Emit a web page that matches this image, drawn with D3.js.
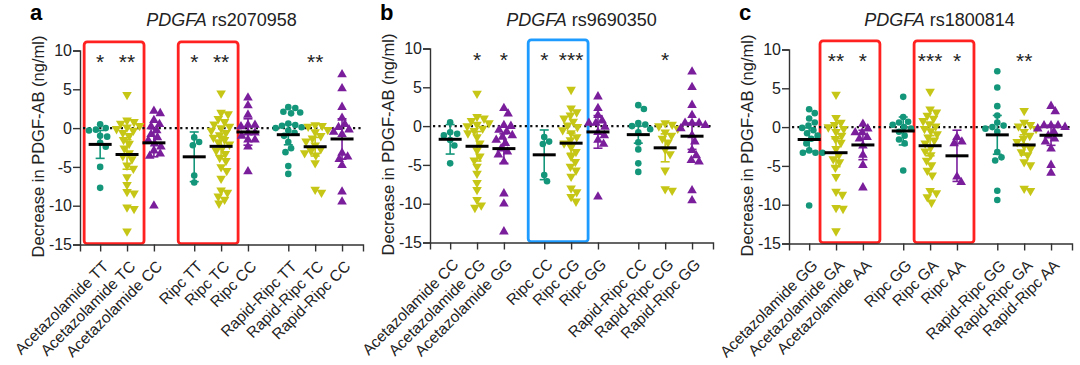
<!DOCTYPE html>
<html>
<head>
<meta charset="utf-8">
<script src="https://cdn.jsdelivr.net/npm/d3@7"></script>
<style>
  body { margin: 0; background: #fff; }
  svg text { font-family: "Liberation Sans", Arial, sans-serif; fill: #222; }
</style>
</head>
<body>
<svg id="chart" width="1080" height="365"></svg>
<script>
// ---- data ----
var catsA = ["Acetazolamide TT", "Acetazolamide TC", "Acetazolamide CC", "Ripc TT", "Ripc TC", "Ripc CC", "Rapid-Ripc TT", "Rapid-Ripc TC", "Rapid-Ripc CC"];
var catsB = ["Acetazolamide CC", "Acetazolamide CG", "Acetazolamide GG", "Ripc CC", "Ripc CG", "Ripc GG", "Rapid-Ripc CC", "Rapid-Ripc CG", "Rapid-Ripc GG"];
var catsC = ["Acetazolamide GG", "Acetazolamide GA", "Acetazolamide AA", "Ripc GG", "Ripc GA", "Ripc AA", "Rapid-Ripc GG", "Rapid-Ripc GA", "Rapid-Ripc AA"];

var valsA = [
  [0.5, -0.2, -0.3, 0.0, -1.0, -1.1, -1.9, -2.4, -5.0, -7.7],
  [4.3, 1.0, 0.8, 0.6, 0.3, 0.1, -0.1, -0.3, -0.6, -1.0, -1.5, -2.0, -2.6, -3.2, -3.6, -4.0, -4.8, -5.2, -6.3, -7.3, -8.2, -8.4, -10.2, -10.4, -13.3],
  [2.2, 1.9, 1.0, 0.5, 0.2, -0.3, -0.8, -1.2, -1.6, -2.0, -2.4, -2.9, -3.3, -3.6, -10.0],
  [-1.2, -1.8, -2.2, -6.1, -7.0],
  [4.5, 2.0, 1.8, 1.2, 0.8, 0.5, 0.2, 0.0, -0.3, -0.6, -0.9, -1.2, -1.5, -1.8, -2.1, -2.5, -2.9, -3.3, -3.8, -4.2, -5.0, -5.5, -6.5, -8.0, -8.3, -8.8, -9.2, -9.7],
  [3.9, 2.9, 1.7, 0.4, 0.4, 0.2, -0.6, -0.6, -1.0, -1.5, -1.5, -2.4, -5.6],
  [2.7, 2.6, 2.1, 2.0, 1.9, 0.6, 0.4, 0.3, 0.1, 0.0, -0.3, -0.6, -1.0, -1.8, -2.6, -3.1, -4.9, -5.9],
  [0.4, 0.3, 0.2, -0.2, -0.5, -1.0, -1.3, -1.7, -2.2, -2.7, -2.9, -3.2, -3.5, -4.5, -7.9, -8.3],
  [6.9, 5.1, 2.7, 1.3, 0.5, 0.1, -0.2, -0.5, -0.8, -3.2, -3.7, -4.0, -4.8, -8.2, -9.5]
];
var valsB = [
  [0.5, -0.8, -1.0, -1.2, -1.8, -2.5, -4.8],
  [4.2, 1.2, 1.0, 0.7, 0.4, 0.2, 0.0, -0.3, -0.6, -0.9, -1.4, -2.2, -3.1, -3.9, -4.4, -5.2, -6.1, -7.3, -8.2, -9.5, -10.2, -10.5],
  [2.3, 1.6, 0.1, 0.0, -0.5, -0.7, -1.2, -1.4, -1.8, -2.2, -2.9, -3.3, -3.7, -4.6, -8.7, -10.0, -13.6],
  [-1.4, -2.0, -2.3, -6.3, -7.1],
  [4.7, 2.3, 1.8, 1.4, 1.0, 0.6, 0.1, -0.1, -0.5, -0.9, -1.4, -1.8, -2.2, -2.7, -3.3, -3.9, -4.6, -5.2, -5.7, -6.5, -8.0, -8.5, -9.1, -9.7],
  [3.8, 2.3, 1.4, 0.7, 0.4, 0.4, -0.1, -0.8, -1.2, -1.8, -2.3, -9.1],
  [2.7, 2.2, 0.4, 0.2, 0.0, -0.4, -0.8, -2.1, -3.0, -4.8, -5.9],
  [0.4, 0.2, 0.0, -0.3, -0.8, -1.2, -1.6, -2.1, -3.0, -3.6, -5.7, -8.1, -8.3],
  [7.0, 5.0, 2.7, 1.4, 0.4, 0.4, 0.4, 0.1, -0.3, -1.2, -2.0, -3.1, -3.8, -4.4, -4.6, -8.3, -9.6]
];
var valsC = [
  [2.3, 1.8, 1.1, 0.6, 0.2, -0.1, -0.4, -0.8, -1.1, -1.5, -2.1, -3.0, -3.3, -3.3, -3.3, -10.1],
  [4.2, 1.2, 0.6, 0.3, 0.0, -0.2, -0.6, -1.1, -1.5, -2.0, -2.8, -3.6, -4.1, -4.5, -5.2, -6.4, -8.3, -8.7, -10.4, -10.5, -13.4],
  [0.4, -0.2, -0.7, -0.7, -1.3, -1.5, -2.4, -3.6, -4.9, -7.8],
  [3.9, 1.3, 0.7, 0.6, 0.3, 0.0, -0.2, -0.6, -1.1, -1.6, -2.1, -5.6],
  [4.6, 2.3, 1.9, 1.5, 1.1, 0.8, 0.4, 0.1, -0.2, -0.5, -0.9, -1.3, -1.7, -2.1, -2.6, -3.1, -3.6, -4.3, -4.9, -5.6, -6.2, -8.2, -8.5, -9.0, -9.7],
  [-1.3, -1.9, -2.1, -6.4, -7.1],
  [7.2, 5.1, 2.7, 1.5, 0.6, 0.2, 0.0, -0.2, -0.6, -3.2, -3.9, -4.3, -8.2, -9.4],
  [2.1, 0.6, 0.3, 0.1, -0.2, -0.6, -1.1, -1.5, -1.9, -2.4, -2.8, -3.2, -3.6, -4.5, -4.9, -7.9, -8.2],
  [2.7, 2.0, 0.2, 0.2, 0.2, 0.0, -0.2, -0.6, -1.1, -1.5, -1.9, -2.8, -4.9, -5.9]
];

var meansA = [-2.1, -3.4, -1.9, -3.7, -2.35, -0.5, -0.85, -2.4, -1.4];
var meansB = [-1.7, -2.6, -2.9, -3.7, -2.2, -0.75, -1.1, -2.8, -1.3];
var meansC = [-1.6, -3.3, -2.3, -0.5, -2.4, -3.7, -1.0, -2.3, -1.05];
var errsA = [1.8, 1.9, 1.8, 3.2, 1.3, 1.7, 1.3, 1.2, 2.6];
var errsB = [1.9, 1.9, 1.9, 3.2, 1.3, 2.1, 1.1, 1.8, 1.7];
var errsC = [1.5, 1.8, 1.9, 1.8, 1.3, 3.3, 2.5, 1.3, 1.3];

var starsA = ["*", "**", "", "*", "**", "", "", "**", ""];
var starsB = ["", "*", "*", "*", "***", "", "", "*", ""];
var starsC = ["", "**", "*", "", "***", "*", "", "**", ""];

var yTicks = [10, 5, 0, -5, -10, -15];
var slots = [0, 1, 2, 3.5, 4.5, 5.5, 7, 8, 9];

// ---- layout ----
var svg = d3.select("#chart");
var colors = ["#13967a", "#c6c617", "#7a1e9c"];
var panels = [
  { letter: "a", snp: "rs2070958", cats: catsA, vals: valsA, means: meansA, errs: errsA, stars: starsA, left: 80, top: 50.5, titleDx: 0,
    boxes: [{ from: 0, to: 1, color: "#ff2020" }, { from: 3, to: 4, color: "#ff2020" }] },
  { letter: "b", snp: "rs9690350", cats: catsB, vals: valsB, means: meansB, errs: errsB, stars: starsB, left: 430, top: 48.5, titleDx: 10,
    boxes: [{ from: 3, to: 4, color: "#1e9bff" }] },
  { letter: "c", snp: "rs1800814", cats: catsC, vals: valsC, means: meansC, errs: errsC, stars: starsC, left: 789, top: 49.5, titleDx: 9,
    boxes: [{ from: 1, to: 2, color: "#ff2020" }, { from: 4, to: 5, color: "#ff2020" }] }
];
var plotW = 283, plotH = 194;

// simple beeswarm: push points sideways until they no longer overlap
function swarm(vals, y, dia) {
  var placed = [];
  var order = vals.map(function(v, i) { return i; }).sort(function(a, b) { return vals[b] - vals[a]; });
  var out = new Array(vals.length);
  order.forEach(function(i) {
    var py = y(vals[i]);
    for (var k = 0; k < 80; k++) {
      var off = Math.ceil(k / 2) * 0.7 * (k % 2 ? 1 : -1);
      var hit = placed.some(function(p) {
        var dx = p[0] - off, dy = p[1] - py;
        return dx * dx + dy * dy < dia * dia;
      });
      if (!hit) { placed.push([off, py]); out[i] = off; break; }
    }
  });
  return out;
}

panels.forEach(function(p) {
  var x = d3.scaleLinear().domain([-0.75, 9.78]).range([p.left, p.left + plotW]);
  var y = d3.scaleLinear().domain([-15, 10]).range([p.top + plotH, p.top]);
  var g = svg.append("g");

  // highlight boxes
  p.boxes.forEach(function(b) {
    g.append("rect")
      .attr("x", x(slots[b.from]) - 16)
      .attr("y", y(11.1))
      .attr("width", x(slots[b.to]) - x(slots[b.from]) + 33)
      .attr("height", y(-14.9) - y(11.1))
      .attr("rx", 3)
      .attr("fill", "none")
      .attr("stroke", b.color)
      .attr("stroke-width", 2.8);
  });

  // dotted zero line
  g.append("line")
    .attr("x1", p.left + 3).attr("x2", p.left + plotW)
    .attr("y1", y(0)).attr("y2", y(0))
    .attr("stroke", "#111").attr("stroke-width", 2.2)
    .attr("stroke-dasharray", "2.2,3.2");

  // axes
  var yAxis = g.append("g").attr("transform", "translate(" + p.left + ",0)")
    .call(d3.axisLeft(y).tickValues(yTicks).tickSize(7).tickFormat(function(d) { return String(d); }));
  yAxis.selectAll("text").style("font-size", "16px").attr("x", -8);
  var xAxis = g.append("g").attr("transform", "translate(0," + (p.top + plotH) + ")")
    .call(d3.axisBottom(x).tickValues(slots).tickSize(7).tickFormat(function(d, i) { return p.cats[i]; }));
  xAxis.selectAll("text")
    .style("font-size", "15.5px")
    .attr("text-anchor", "end")
    .attr("x", 0).attr("y", 0).attr("dy", "0.35em")
    .attr("transform", "translate(5,19) rotate(-45)");
  [yAxis, xAxis].forEach(function(a) {
    a.select(".domain").attr("stroke", "#333").attr("stroke-width", 1.4);
    a.selectAll(".tick line").attr("stroke", "#333").attr("stroke-width", 1.4);
  });

  // points, error bars, means
  p.vals.forEach(function(vals, i) {
    var cx = x(slots[i]);
    var col = colors[i % 3];
    var offs = swarm(vals, y, 6.6);
    var sym = i % 3 === 0 ? d3.symbol(d3.symbolCircle, 34) : d3.symbol(d3.symbolTriangle, 40);
    g.append("g").selectAll("path").data(vals).join("path")
      .attr("d", sym)
      .attr("transform", function(v, j) {
        return "translate(" + (cx + offs[j]) + "," + y(v) + ")" + (i % 3 === 1 ? " rotate(180)" : "");
      })
      .attr("fill", col);

    var m = p.means[i], e = p.errs[i];
    g.append("line").attr("x1", cx).attr("x2", cx).attr("y1", y(m + e)).attr("y2", y(m - e))
      .attr("stroke", col).attr("stroke-width", 1.6);
    [m + e, m - e].forEach(function(v) {
      g.append("line").attr("x1", cx - 4.5).attr("x2", cx + 4.5).attr("y1", y(v)).attr("y2", y(v))
        .attr("stroke", col).attr("stroke-width", 1.6);
    });
    g.append("line").attr("x1", cx - 11.5).attr("x2", cx + 11.5).attr("y1", y(m)).attr("y2", y(m))
      .attr("stroke", "#000").attr("stroke-width", 3);

    if (p.stars[i]) {
      g.append("text").attr("x", cx).attr("y", y(9.2) + 12)
        .attr("text-anchor", "middle").style("font-size", "21px")
        .text(p.stars[i]);
    }
  });

  // titles
  var t = g.append("text").attr("x", p.left + plotW / 2 + p.titleDx).attr("y", 26)
    .attr("text-anchor", "middle").style("font-size", "18px");
  t.append("tspan").style("font-style", "italic").text("PDGFA");
  t.append("tspan").text(" " + p.snp);

  g.append("text").attr("x", p.left - 50).attr("y", 20)
    .style("font-size", "22px").style("font-weight", "bold").style("fill", "#000")
    .text(p.letter);

  g.append("text")
    .attr("transform", "translate(" + (p.left - 36) + "," + (p.top + 96) + ") rotate(-90)")
    .attr("text-anchor", "middle").style("font-size", "16.5px")
    .text("Decrease in PDGF-AB (ng/ml)");
});
</script>
</body>
</html>
